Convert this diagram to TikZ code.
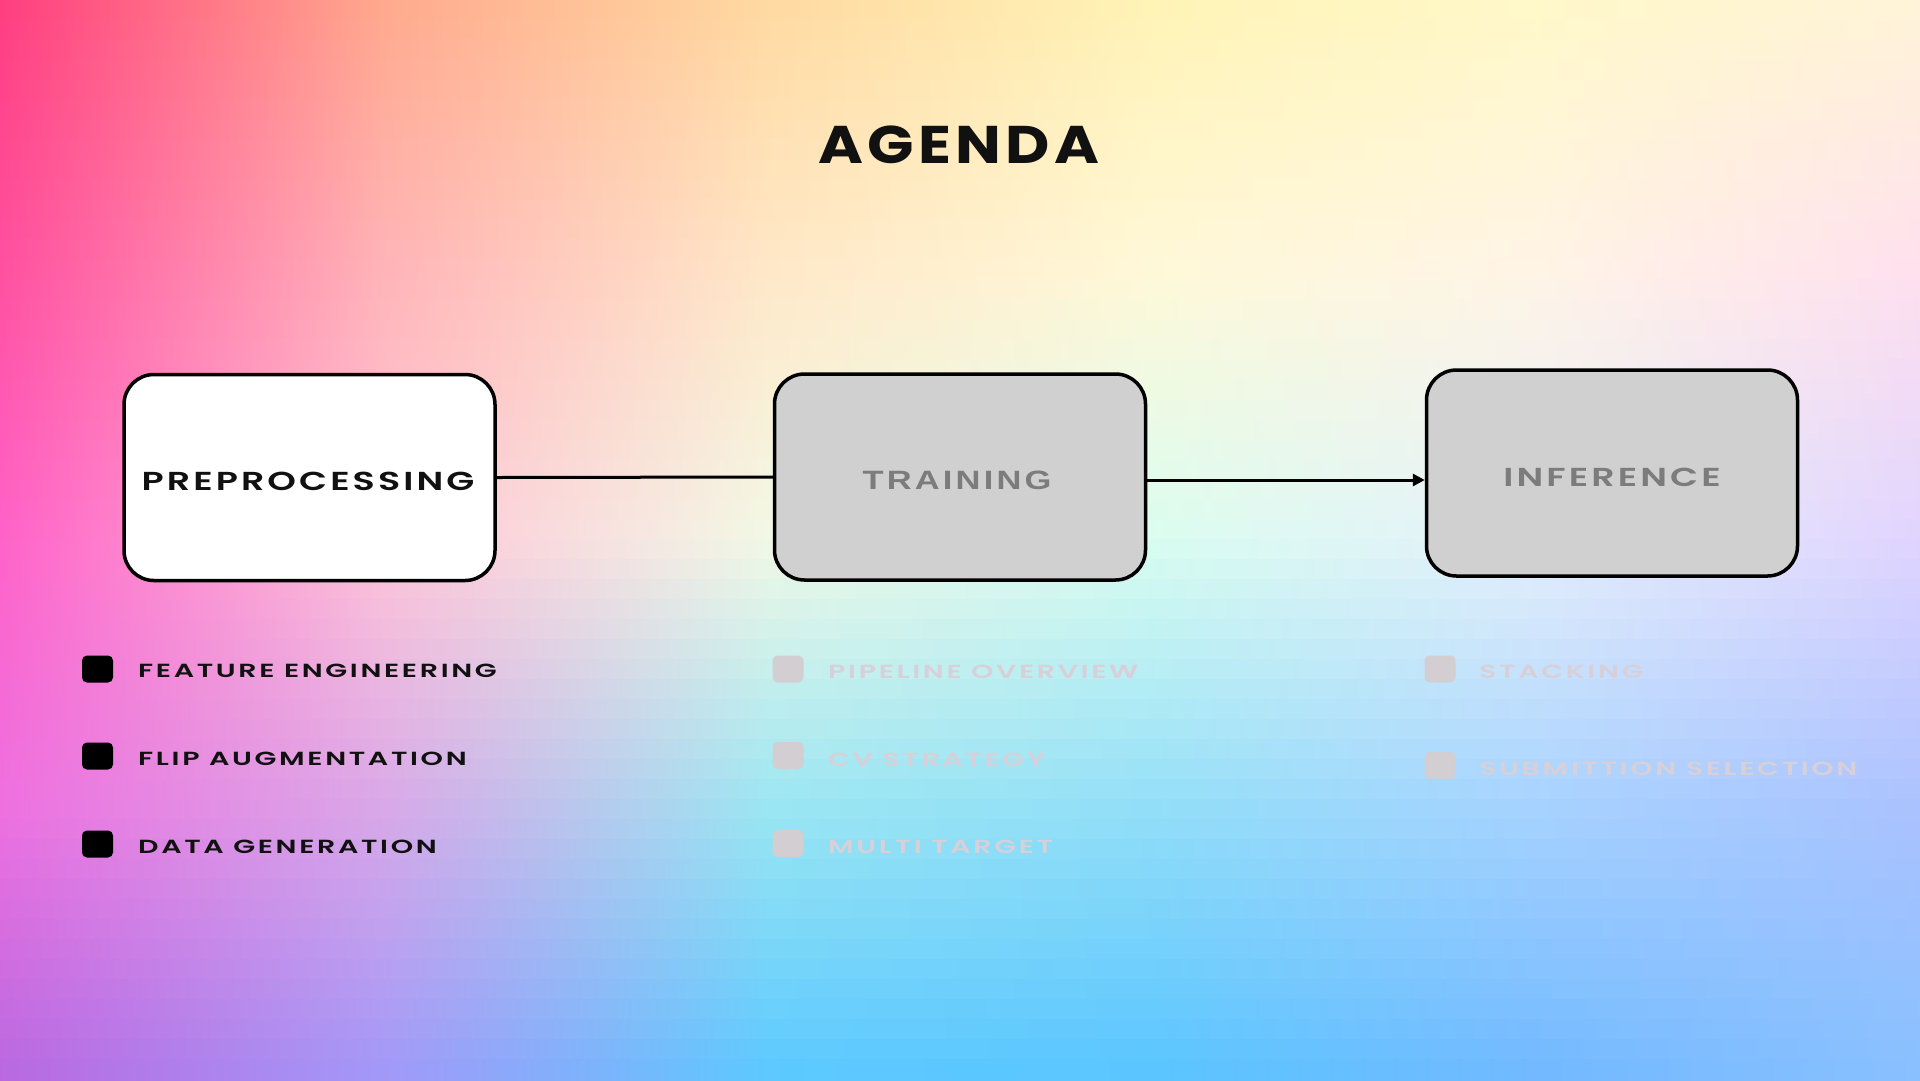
\documentclass[tikz,border=0pt]{standalone}
\usepackage{fontspec}
\usetikzlibrary{arrows.meta}
\setmainfont{Poppins}
\newfontfamily\titlefont[FakeStretch=1.15,LetterSpace=8]{Poppins}
\newfontfamily\boxfont[FakeStretch=1.4,LetterSpace=12]{Poppins SemiBold}
\newfontfamily\bulletfont[FakeStretch=1.5,LetterSpace=14]{Poppins SemiBold}
\newfontfamily\trainfont[FakeStretch=1.3,LetterSpace=12]{Liberation Sans}
% background colour grid (rows y=0,270,540,810,1080; columns x=0..1920 step 384)
\definecolor{r0c0}{HTML}{FF3D7F}\definecolor{r0c1}{HTML}{FFA98C}\definecolor{r0c2}{HTML}{FFD9A0}
\definecolor{r0c3}{HTML}{FFF3B5}\definecolor{r0c4}{HTML}{FFF8C8}\definecolor{r0c5}{HTML}{FFF4D8}
\definecolor{r1c0}{HTML}{FF50A0}\definecolor{r1c1}{HTML}{FFB4B8}\definecolor{r1c2}{HTML}{FFE8C8}
\definecolor{r1c3}{HTML}{FFF8D8}\definecolor{r1c4}{HTML}{FFF4E6}\definecolor{r1c5}{HTML}{FFE0EE}
\definecolor{r2c0}{HTML}{FF62C8}\definecolor{r2c1}{HTML}{FFC6D8}\definecolor{r2c2}{HTML}{F2F8E6}
\definecolor{r2c3}{HTML}{DAFDF0}\definecolor{r2c4}{HTML}{E6F0FA}\definecolor{r2c5}{HTML}{E0D4FF}
\definecolor{r3c0}{HTML}{EE70E0}\definecolor{r3c1}{HTML}{D8A8E8}\definecolor{r3c2}{HTML}{9AE6F2}
\definecolor{r3c3}{HTML}{92DEF8}\definecolor{r3c4}{HTML}{A6D2FF}\definecolor{r3c5}{HTML}{AAC2FF}
\definecolor{r4c0}{HTML}{B868E0}\definecolor{r4c1}{HTML}{A098F8}\definecolor{r4c2}{HTML}{5AC8FF}
\definecolor{r4c3}{HTML}{58C4FF}\definecolor{r4c4}{HTML}{70B8FF}\definecolor{r4c5}{HTML}{88C0FF}
\definecolor{boxgray}{HTML}{D0D0D0}
\definecolor{labelgray}{HTML}{7C7C7C}
\definecolor{fadesq}{HTML}{D2CED2}
\definecolor{fadetext}{HTML}{D8D0D8}
\definecolor{ink}{HTML}{111111}
\tikzset{
  stagebox/.style={draw=black, line width=3.5pt, rounded corners=30pt,
    minimum width=371pt, minimum height=206pt, inner sep=0pt},
  boxlabel/.style={inner sep=0pt, anchor=base, font=\boxfont\fontsize{26}{30}\selectfont},
  trainlabel/.style={inner sep=0pt, anchor=base, font=\trainfont\bfseries\fontsize{26.5}{30}\selectfont},
  bulletsq/.style={inner sep=0pt, minimum width=31pt, minimum height=27pt, rounded corners=5pt},
  bullettext/.style={inner sep=0pt, anchor=base west, font=\bulletfont\fontsize{19}{22}\selectfont},
  conn/.style={draw=black, line width=3pt},
}
\begin{document}
\begin{tikzpicture}[x=1pt,y=-1pt]
\useasboundingbox (0,0) rectangle (1920,1080);
\begin{scope}
\clip (0,0) rectangle (1920,1080);
\foreach \j in {0,...,53}{
  \pgfmathsetmacro{\t}{(\j+0.5)/54*4}
  \pgfmathtruncatemacro{\k}{min(floor(\t),3)}
  \pgfmathtruncatemacro{\kk}{\k+1}
  \pgfmathtruncatemacro{\p}{round((1-(\t-\k))*100)}
  \colorlet{s0}{r\k c0!\p!r\kk c0}
  \colorlet{s1}{r\k c1!\p!r\kk c1}
  \colorlet{s2}{r\k c2!\p!r\kk c2}
  \colorlet{s3}{r\k c3!\p!r\kk c3}
  \colorlet{s4}{r\k c4!\p!r\kk c4}
  \colorlet{s5}{r\k c5!\p!r\kk c5}
  \pgfdeclarehorizontalshading{bgs\j}{100bp}{color(0bp)=(s0); color(25bp)=(s0); color(35bp)=(s1); color(45bp)=(s2); color(55bp)=(s3); color(65bp)=(s4); color(75bp)=(s5); color(100bp)=(s5)}
  \fill[shading=bgs\j] (0,\j*20-1) rectangle (1920,\j*20+21);
}
\end{scope}

% title
\node[inner sep=0pt, anchor=base, text=ink, font=\titlefont\bfseries\fontsize{53}{60}\selectfont] (title) at (959,163) {AGENDA};

% stage boxes
\node[stagebox, fill=white] (pre) at (309.5,477.5) {};
\node[stagebox, fill=boxgray] (tra) at (960,477) {};
\node[stagebox, fill=boxgray] (inf) at (1612,473) {};

\node[boxlabel, text=ink] (prelbl) at (308,490) {PREPROCESSING};
\node[trainlabel, text=labelgray] (tralbl) at (957,489) {TRAINING};
\node[boxlabel, text=labelgray] (inflbl) at (1612,486) {INFERENCE};

% connectors
\draw[conn] (pre.east) -- (tra.west);
\draw[conn, -{Triangle[length=12pt,width=12pt]}] ([yshift=-3pt]tra.east) -- ([yshift=-3pt]tra.east -| inf.west);

% left column bullets
\node[bulletsq, fill=black] (l1) at (97.5,669) {};
\node[bulletsq, fill=black] (l2) at (97.5,756) {};
\node[bulletsq, fill=black] (l3) at (97.5,844) {};
\node[bullettext, text=ink] (lt1) at (138,677) {FEATURE ENGINEERING};
\node[bullettext, text=ink] (lt2) at (138,765) {FLIP AUGMENTATION};
\node[bullettext, text=ink] (lt3) at (138,853) {DATA GENERATION};

% middle column bullets
\node[bulletsq, fill=fadesq] (m1) at (788,669) {};
\node[bulletsq, fill=fadesq] (m2) at (788,755.5) {};
\node[bulletsq, fill=fadesq] (m3) at (788,843.5) {};
\node[bullettext, text=fadetext] (mt1) at (828,678) {PIPELINE OVERVIEW};
\node[bullettext, text=fadetext] (mt2) at (828,766) {CV STRATEGY};
\node[bullettext, text=fadetext] (mt3) at (828,853) {MULTI TARGET};

% right column bullets
\node[bulletsq, fill=fadesq] (r1) at (1440,669) {};
\node[bulletsq, fill=fadesq] (r2) at (1440,765.5) {};
\node[bullettext, text=fadetext] (rt1) at (1479,678) {STACKING};
\node[bullettext, text=fadetext] (rt2) at (1479,775) {SUBMITTION SELECTION};
\end{tikzpicture}
\end{document}
